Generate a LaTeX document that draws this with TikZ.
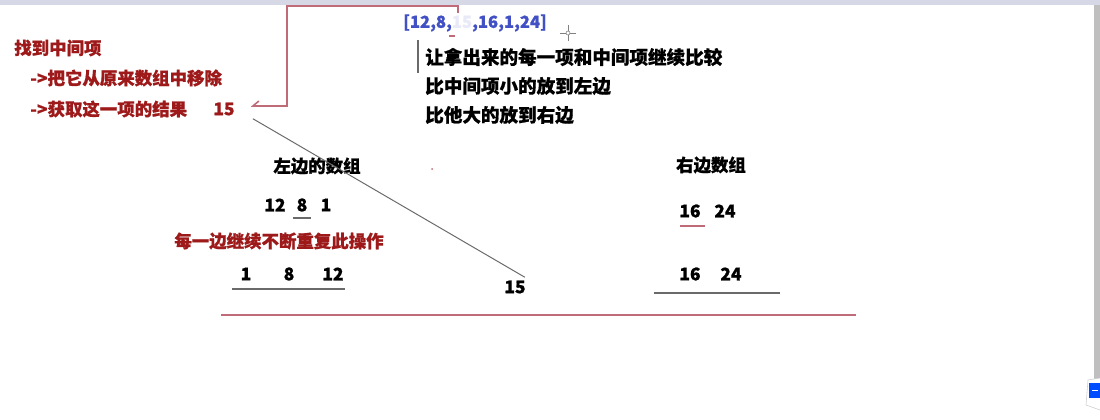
\documentclass[tikz,border=0pt]{standalone}
\usepackage{fontspec}
\setmainfont{Noto Sans CJK SC}[BoldFeatures={FakeBold=0.8}]
\usepackage{tikz}
\usetikzlibrary{positioning, calc}
\definecolor{NoteRed}{HTML}{9E1A1A}
\definecolor{ListBlue}{HTML}{4150C4}
\definecolor{LineRose}{HTML}{C06C78}
\definecolor{LineGray}{HTML}{6A6A6A}
\definecolor{BarGray}{HTML}{D6D8E6}

\begin{document}
\begin{tikzpicture}[x=0.025cm, y=-0.025cm,
    txt/.style={inner sep=0pt, font=\fontsize{12.4}{14}\selectfont\bfseries},
    note/.style={txt, text=NoteRed},
    step txt/.style={txt, font=\fontsize{13.2}{15}\selectfont\bfseries},
    num/.style={txt, text=black},
    rule line/.style={LineGray, line width=1.2pt},
    rose line/.style={LineRose, line width=1.1pt}]
  % Screen background
  \fill[white] (0,0) rectangle (1100,420);
  \useasboundingbox (0,0) rectangle (1100,420);
  \fill[BarGray] (0,0) rectangle (1100,5);
  \fill[gray!50] (1094,5) rectangle (1100,380);
  \draw[gray!40, fill=white] (1100,378) -- (1088,380) -- (1086,405) -- (1100,410);
  \fill[blue!70!cyan] (1089,383) rectangle (1100,398);
  \draw[white, thick] (1098,390.5) -- (1092,390.5);

  % Notes on the left
  \node[note, anchor=west] (find) at (14,48) {找到中间项};
  \node[note, anchor=west] (remove) at (30,78) {->把它从原来数组中移除};
  \node[note, anchor=west] (result) at (30,109) {->获取这一项的结果};
  \node[note] (top15) at (224,109) {15};

  % The array
  \node[txt, text=ListBlue, anchor=west, font=\fontsize{11.8}{13}\selectfont\bfseries] (list) at (403,23)
    {[12,8,\textcolor{ListBlue!12}{15},16,1,24]};
  \coordinate (pick) at (458,13);
  \draw[rose line] (449,36) -- (455,36);

  % Bracket from the array down to 15
  \draw[rose line] (pick) |- (287,6) -- (287,106) -- ($(top15.east)+(18,-3)$) -- ($(top15.east)+(24,-8)$);

  % Mouse cursor
  \draw[gray] (560,33) -- (576,33) (568,25) -- (568,41);
  \draw[gray, fill=white] (568,33) circle (2);

  % Rules
  \draw[rule line] (418,40) -- (418,73);
  \node[step txt, anchor=west] (rule1) at (425,57) {让拿出来的每一项和中间项继续比较};
  \node[step txt, anchor=west] (rule2) at (425,86) {比中间项小的放到左边};
  \node[step txt, anchor=west] (rule3) at (425,115) {比他大的放到右边};

  % Left side
  \node[txt] (leftTitle) at (317,166) {左边的数组};
  \fill[LineRose] (432,169) circle (1);
  \node[num] (l12) at (275,205) {12};
  \node[num] (l8) at (302,205) {8};
  \node[num] (l1) at (326,205) {1};
  \draw[rule line] (293,218) -- (311,218);
  \node[note] (repeat) at (279,241) {每一边继续不断重复此操作};
  \node[num] (s1) at (246,274) {1};
  \node[num] (s8) at (289,274) {8};
  \node[num] (s12) at (333,274) {12};
  \draw[rule line] (232,289) -- (345,289);

  % Middle item
  \node[num] (mid15) at (515,287) {15};
  \draw[LineGray, line width=0.7pt] ($(top15.south east)+(18,3)$) -- ($(mid15.north east)+(-1,-3)$);

  % Right side
  \node[txt] (rightTitle) at (711,165) {右边数组};
  \node[num] (r16) at (690,211) {16};
  \node[num] (r24) at (725,211) {24};
  \draw[rose line] (680,226) -- (705,226);
  \node[num] (t16) at (690,274) {16};
  \node[num] (t24) at (731,274) {24};
  \draw[rule line] (654,293) -- (780,293);

  % Bottom line
  \draw[rose line] (221,315) -- (856,315);
\end{tikzpicture}
\end{document}
